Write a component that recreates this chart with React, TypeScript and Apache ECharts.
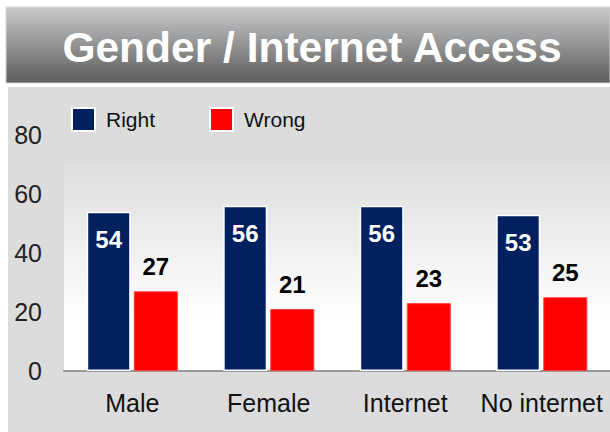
import React, { useEffect, useRef } from "react";
import * as echarts from "echarts";

const categories = ["Male", "Female", "Internet", "No internet"];
const rightValues = [54, 56, 56, 53];
const wrongValues = [27, 21, 23, 25];
const yTicks = [0, 20, 40, 60, 80];
const titleText = "Gender / Internet Access";

const FONT = "'Liberation Sans', Arial, sans-serif";

export default function App() {
  const ref = useRef<HTMLDivElement>(null);
  useEffect(() => {
    if (!ref.current) return;
    const chart = echarts.init(ref.current, null, { renderer: "svg" });
    chart.setOption({
      animation: false,
      backgroundColor: "#ffffff",
      textStyle: { fontFamily: FONT },
      graphic: [
        {
          type: "rect",
          z: 0,
          shape: { x: 6, y: 7, width: 604, height: 76 },
          style: {
            fill: new echarts.graphic.LinearGradient(0, 0, 0, 1, [
              { offset: 0, color: "#c9cacc" },
              { offset: 1, color: "#5c5c5c" },
            ]),
            stroke: "#d4d4d4",
            lineWidth: 1,
          },
        },
        {
          type: "rect",
          z: 0,
          shape: { x: 8, y: 87, width: 602, height: 345 },
          style: { fill: "#dcdcdc" },
        },
        {
          type: "rect",
          z: 0,
          shape: { x: 64, y: 165, width: 546, height: 206 },
          style: {
            fill: new echarts.graphic.LinearGradient(0, 0, 0, 1, [
              { offset: 0, color: "#dedede" },
              { offset: 0.75, color: "#ffffff" },
              { offset: 1, color: "#ffffff" },
            ]),
          },
        },
        {
          type: "text",
          z: 5,
          x: 312,
          y: 47,
          style: {
            text: titleText,
            fill: "#ffffff",
            font: `bold 42.5px ${FONT}`,
            textAlign: "center",
            textVerticalAlign: "middle",
          },
        },
      ],
      legend: {
        left: 71,
        top: 107,
        padding: 0,
        itemWidth: 23,
        itemHeight: 23,
        itemGap: 54,
        icon: "rect",
        textStyle: {
          fontSize: 21,
          color: "#111",
          fontFamily: FONT,
          padding: [0, 0, 0, 6],
        },
        itemStyle: { borderColor: "#ffffff", borderWidth: 2 },
        data: ["Right", "Wrong"],
      },
      grid: { left: 64, right: 0, top: 135, bottom: 61, containLabel: false },
      xAxis: {
        type: "category",
        data: categories,
        axisLine: { lineStyle: { color: "#999999", width: 2 } },
        axisTick: { show: false },
        axisLabel: { interval: 0, fontSize: 25, color: "#111", margin: 19, fontFamily: FONT },
      },
      yAxis: {
        type: "value",
        min: yTicks[0],
        max: yTicks[yTicks.length - 1],
        interval: 20,
        splitLine: { show: false },
        axisLine: { show: false },
        axisTick: { show: false },
        axisLabel: { fontSize: 25, color: "#222", margin: 22, fontFamily: FONT },
      },
      series: [
        {
          name: "Right",
          type: "bar",
          data: rightValues,
          barWidth: 44,
          barGap: "7%",
          itemStyle: { color: "#002060", borderColor: "#ffffff", borderWidth: 1.5 },
          label: {
            show: true,
            position: "insideTop",
            distance: 16,
            color: "#ffffff",
            fontSize: 24,
            fontWeight: "bold",
            fontFamily: FONT,
          },
        },
        {
          name: "Wrong",
          type: "bar",
          data: wrongValues,
          barWidth: 44,
          itemStyle: { color: "#ff0000", borderColor: "#ff3b3b", borderWidth: 1 },
          label: {
            show: true,
            position: "top",
            distance: 13,
            color: "#000000",
            fontSize: 24,
            fontWeight: "bold",
            fontFamily: FONT,
          },
        },
      ],
    });
    return () => chart.dispose();
  }, []);
  return (
    <div
      ref={ref}
      style={{ position: "fixed", left: 0, top: 0, width: 610, height: 432 }}
    />
  );
}
